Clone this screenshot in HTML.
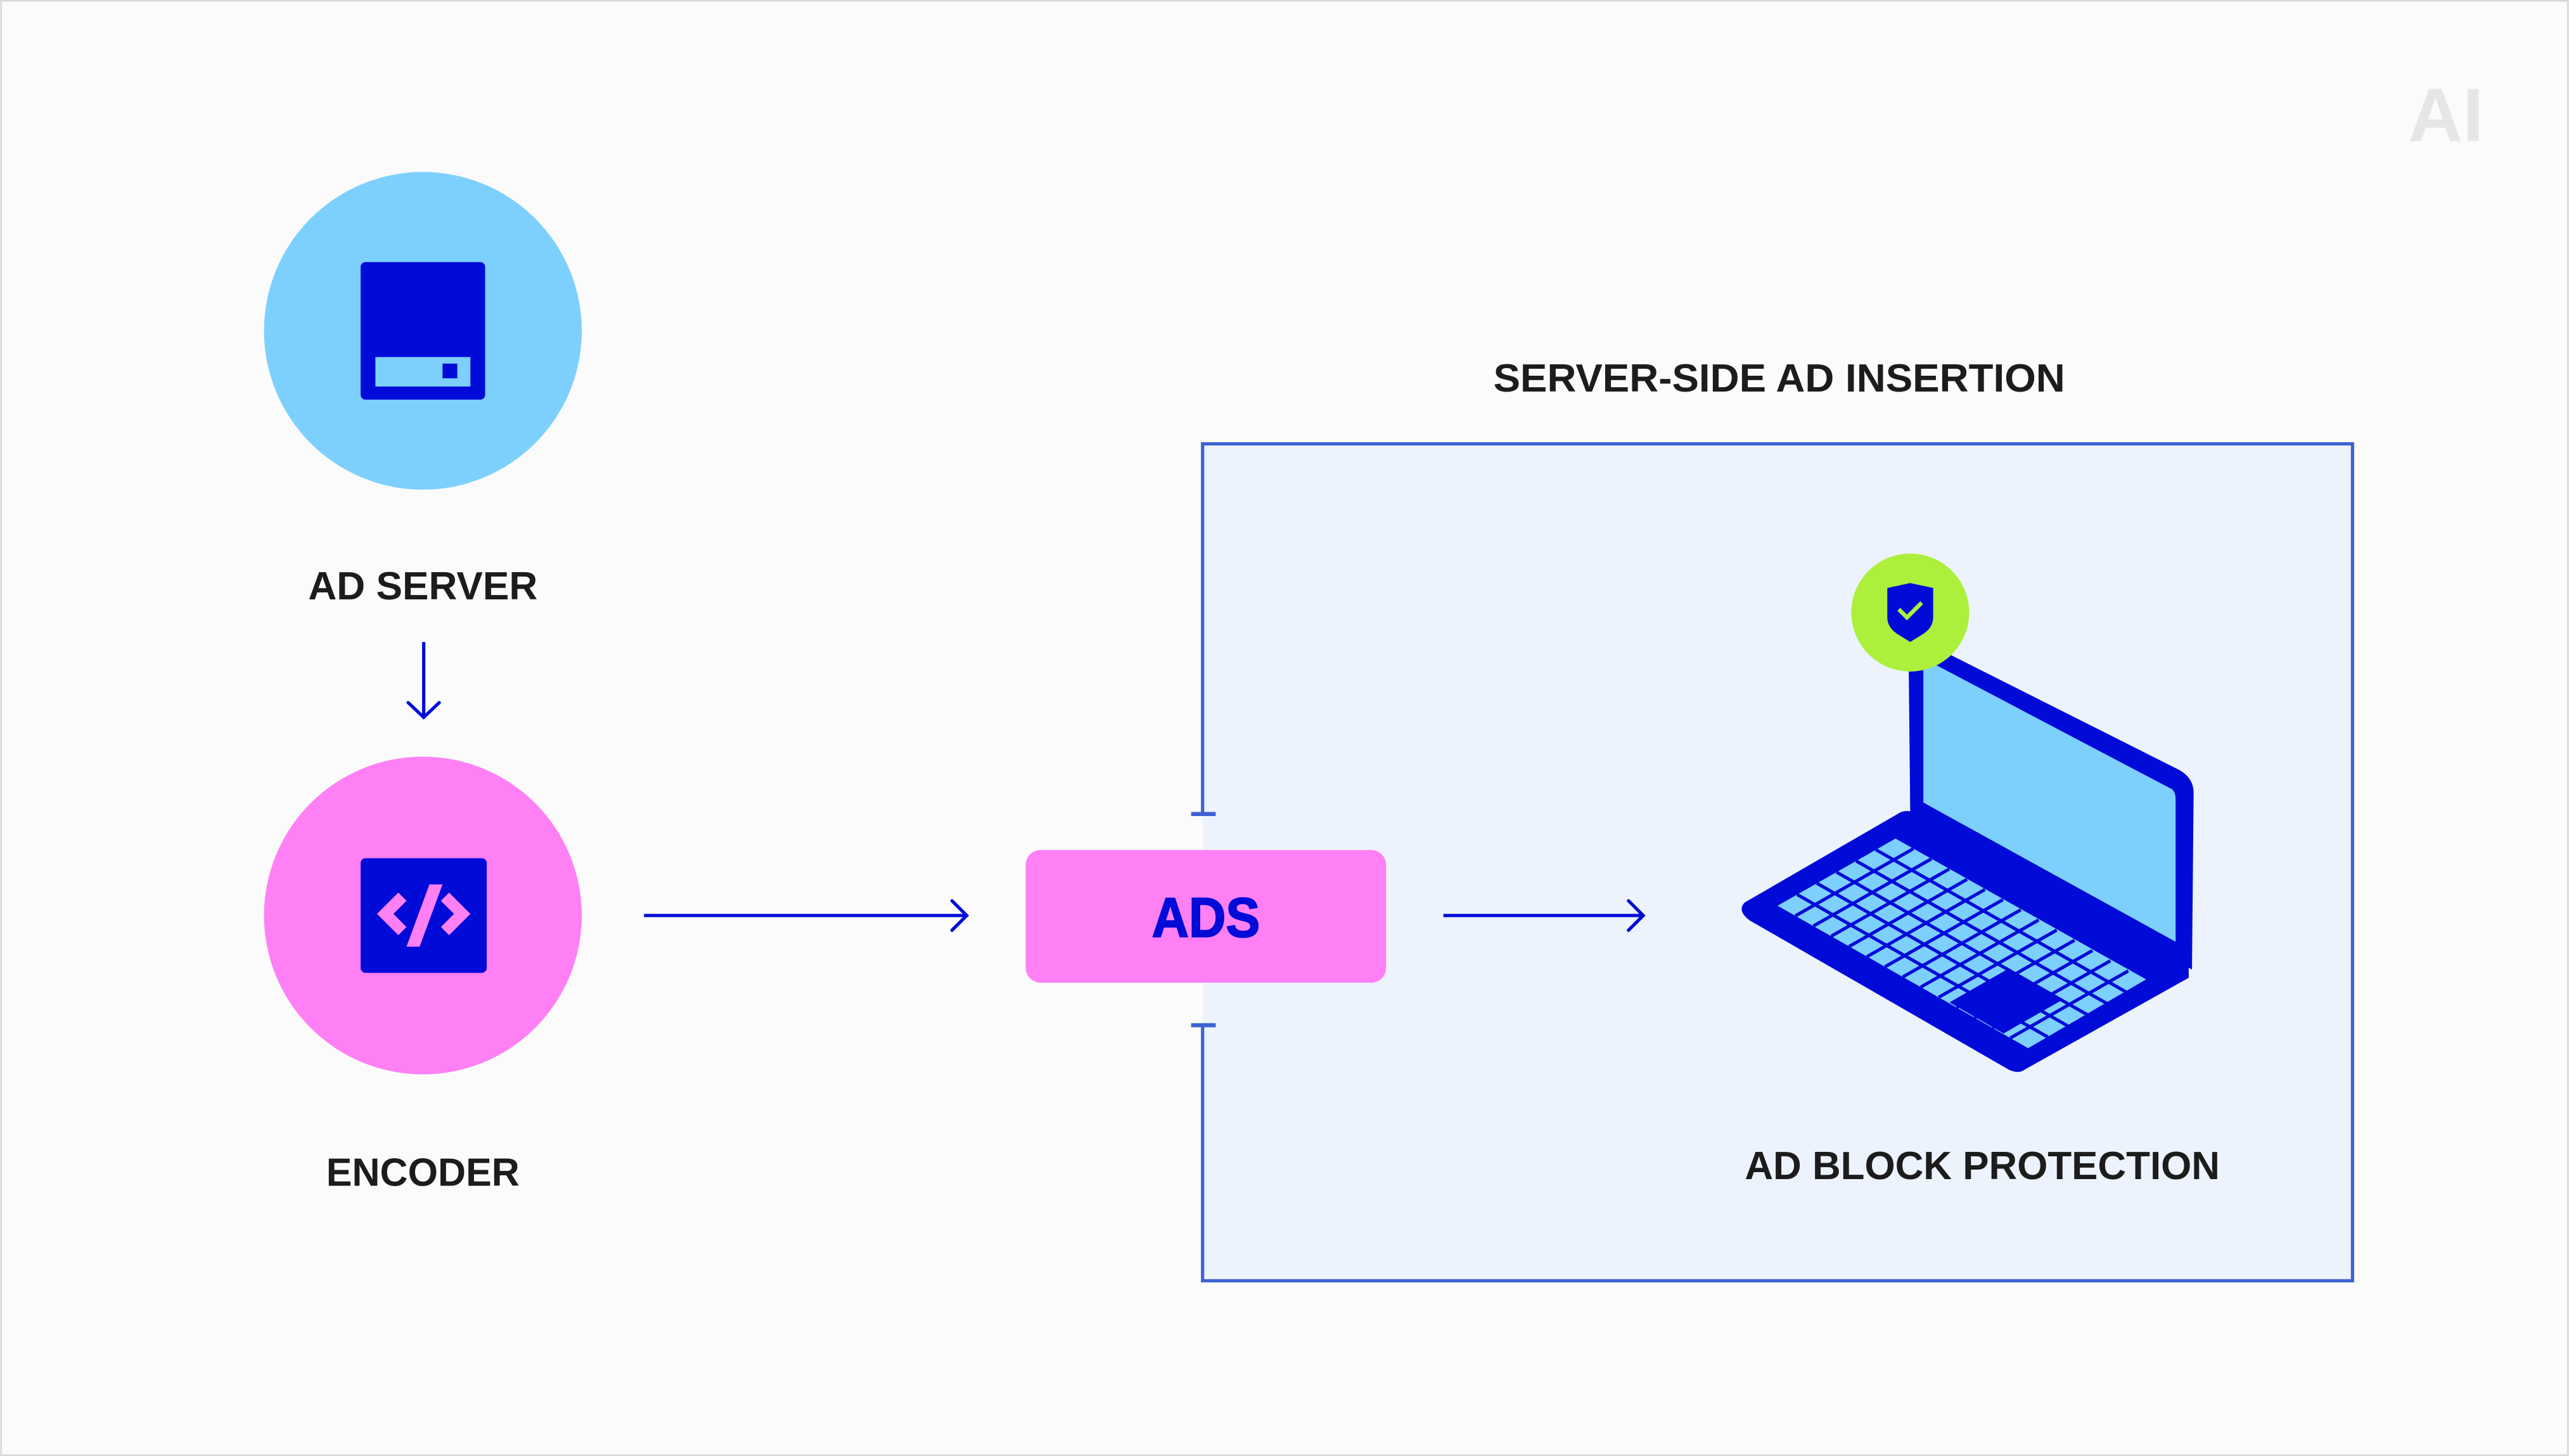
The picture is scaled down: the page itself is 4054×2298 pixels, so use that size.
<!DOCTYPE html>
<html><head><meta charset="utf-8"><style>
html,body{margin:0;padding:0;background:#fbfbfb;}
svg{display:block;}
text{font-family:"Liberation Sans",sans-serif;font-weight:bold;}
</style></head><body>
<svg width="4054" height="2298" viewBox="0 0 1568 889" xmlns="http://www.w3.org/2000/svg">
<rect x="0.5" y="0.5" width="1567" height="888" fill="#fbfbfb" stroke="#d8d8d8" stroke-width="1"/>
<!-- AI logo -->
<text x="1493" y="86" font-size="46" fill="#e6e6e6" text-anchor="middle" textLength="46" lengthAdjust="spacingAndGlyphs">AI</text>
<!-- box -->
<rect x="734" y="271" width="702" height="511" fill="#edf3fd"/>
<path d="M734 497 V271 H1436 V782 H734 V626" fill="none" stroke="#3d62d4" stroke-width="2"/>
<line x1="727" y1="497" x2="742" y2="497" stroke="#3d62d4" stroke-width="2.5"/>
<line x1="727" y1="626" x2="742" y2="626" stroke="#3d62d4" stroke-width="2.5"/>
<text x="1086" y="239" font-size="24" fill="#1c1c1c" text-anchor="middle" textLength="349" lengthAdjust="spacingAndGlyphs">SERVER-SIDE AD INSERTION</text>
<!-- ad server -->
<circle cx="258" cy="202" r="97" fill="#7dd0fe"/>
<rect x="220" y="160" width="76" height="84" rx="3" fill="#000bd8"/>
<rect x="229" y="218" width="58" height="18" fill="#7dd0fe"/>
<rect x="270" y="222" width="9" height="9" fill="#000bd8"/>
<text x="258" y="366" font-size="24" fill="#1c1c1c" text-anchor="middle" textLength="140" lengthAdjust="spacingAndGlyphs">AD SERVER</text>
<line x1="258.5" y1="392" x2="258.5" y2="438" stroke="#000bd8" stroke-width="2"/>
<path d="M249 429 L258.5 438 L268 429" fill="none" stroke="#000bd8" stroke-width="2" stroke-linecap="round"/>
<!-- encoder -->
<circle cx="258" cy="559" r="97" fill="#ff80f5"/>
<rect x="220" y="524" width="77" height="70" rx="3" fill="#000bd8"/>
<path d="M243 545 L230 558 L243 571 L248 566 L240 558 L248 550 Z" fill="#ff80f5"/>
<path d="M274 545 L287 558 L274 571 L269 566 L277 558 L269 550 Z" fill="#ff80f5"/>
<path d="M262 540 L270 540 L256 578 L248 578 Z" fill="#ff80f5"/>
<text x="258" y="724" font-size="24" fill="#1c1c1c" text-anchor="middle" textLength="118" lengthAdjust="spacingAndGlyphs">ENCODER</text>
<!-- arrow 1 -->
<line x1="393" y1="559" x2="590" y2="559" stroke="#000bd8" stroke-width="2"/>
<path d="M581 550 L590 559 L581 568" fill="none" stroke="#000bd8" stroke-width="2" stroke-linecap="round"/>
<!-- ADS -->
<rect x="626" y="519" width="220" height="81" rx="9" fill="#ff80f5"/>
<text x="736" y="572" font-size="34" fill="#000bd8" stroke="#000bd8" stroke-width="0.8" text-anchor="middle" textLength="66" lengthAdjust="spacingAndGlyphs">ADS</text>
<!-- arrow 2 -->
<line x1="881" y1="559" x2="1003" y2="559" stroke="#000bd8" stroke-width="2"/>
<path d="M994 550 L1003 559 L994 568" fill="none" stroke="#000bd8" stroke-width="2" stroke-linecap="round"/>
<!-- laptop -->
<path d="M1165 400 Q1165 390 1175 392 L1330 470 Q1339 475 1339 484 L1338 592 L1166 497 Z" fill="#000bd8"/>
<path d="M1174 402 L1326 482 Q1328 484 1328 488 L1328 575 L1174 490 Z" fill="#7dd0fe"/>
<path d="M1065 551 L1160 496 Q1165 494 1170 497 L1336 590 L1336 597 L1236 653 Q1232 656 1226 653 L1068 562 Q1060 556 1065 551 Z" fill="#000bd8"/>
<path d="M1085 553 L1157 512 L1310 598 L1238 640 Z" fill="#7dd0fe"/>
<g stroke="#000bd8" stroke-width="2">
<line x1="1097" y1="546.2" x2="1250" y2="633.2"/>
<line x1="1109" y1="539.3" x2="1262" y2="626.3"/>
<line x1="1121" y1="532.5" x2="1274" y2="619.5"/>
<line x1="1133" y1="525.7" x2="1286" y2="612.7"/>
<line x1="1145" y1="518.8" x2="1298" y2="605.8"/>
<line x1="1095.9" y1="559.2" x2="1167.9" y2="518.2"/>
<line x1="1106.9" y1="565.4" x2="1178.9" y2="524.4"/>
<line x1="1117.8" y1="571.6" x2="1189.8" y2="530.6"/>
<line x1="1128.7" y1="577.9" x2="1200.7" y2="536.9"/>
<line x1="1139.6" y1="584.1" x2="1211.6" y2="543.1"/>
<line x1="1150.6" y1="590.3" x2="1222.6" y2="549.3"/>
<line x1="1161.5" y1="596.5" x2="1233.5" y2="555.5"/>
<line x1="1172.4" y1="602.7" x2="1244.4" y2="561.7"/>
<line x1="1183.4" y1="608.9" x2="1255.4" y2="567.9"/>
<line x1="1194.3" y1="615.1" x2="1266.3" y2="574.1"/>
<line x1="1205.2" y1="621.4" x2="1277.2" y2="580.4"/>
<line x1="1216.2" y1="627.6" x2="1288.2" y2="586.6"/>
<line x1="1227.1" y1="633.8" x2="1299.1" y2="592.8"/>
</g>
<path d="M1190 612 L1225 592 L1258 611 L1223 631 Z" fill="#000bd8"/>
<!-- badge -->
<circle cx="1166" cy="374" r="36" fill="#adf03c"/>
<path d="M1152 359 L1166 356 L1180 359 L1180 377 Q1180 383 1174 387 L1166 392 L1158 387 Q1152 383 1152 377 Z" fill="#000bd8"/>
<path d="M1159 372 L1164 377 L1173 368" fill="none" stroke="#adf03c" stroke-width="2.5"/>
<text x="1210" y="720" font-size="24" fill="#1c1c1c" text-anchor="middle" textLength="290" lengthAdjust="spacingAndGlyphs">AD BLOCK PROTECTION</text>
</svg>
</body></html>
